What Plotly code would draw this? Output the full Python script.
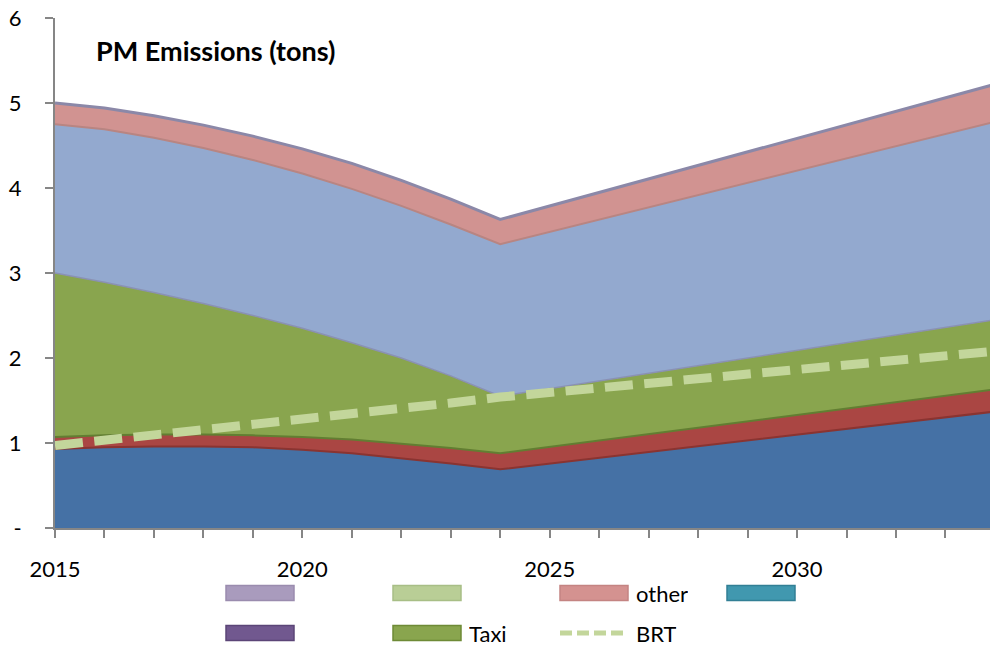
import plotly.graph_objects as go

# Years with data points (the 2024-2034 stretch is a straight run between the two ends)
years = [2015, 2016, 2017, 2018, 2019, 2020, 2021, 2022, 2023, 2024, 2034]

# Stacked PM emissions by layer, tons (bottom to top)
bus = [0.93, 0.95, 0.96, 0.96, 0.95, 0.92, 0.88, 0.82, 0.76, 0.69, 1.37]
minibus = [0.14, 0.14, 0.14, 0.14, 0.14, 0.15, 0.16, 0.17, 0.18, 0.19, 0.26]
taxi = [1.93, 1.80, 1.67, 1.54, 1.41, 1.28, 1.14, 1.01, 0.85, 0.67, 0.82]
private = [1.75, 1.80, 1.82, 1.83, 1.83, 1.82, 1.81, 1.79, 1.78, 1.79, 2.33]
other = [0.25, 0.25, 0.26, 0.27, 0.28, 0.29, 0.30, 0.30, 0.30, 0.29, 0.44]

# BRT line, tons
brt = [0.97, 1.03, 1.09, 1.16, 1.22, 1.28, 1.35, 1.41, 1.47, 1.54, 2.08]

y_ticks = [0, 1, 2, 3, 4, 5, 6]
y_tick_text = ["-", "1", "2", "3", "4", "5", "6"]
x_label_years = [2015, 2020, 2025, 2030]

# Legend entries (label, fill, outline) laid out in two rows of four columns
legend_labels = ["", "", "other", "", "", "Taxi", "BRT"]
legend_fills = ["#A99BBD", "#B9CE96", "#D49290", "#4198AF", "#71588F", "#89A54E", "#C3D69B"]
legend_edges = ["#9A8CAE", "#A8BE86", "#C48482", "#327F95", "#5B4577", "#6E8A36", "#C3D69B"]

FONT = "Lato"
W, H = 990, 646
L, R, T, B = 55, 0, 18, 118
X0, X1 = 2015, 2033.9

fig = go.Figure()

layers = [
    ("", bus, "#4571A5", "#8A3431", 2),
    ("", minibus, "#AA4643", "#627E32", 2),
    ("Taxi", taxi, "#89A54E", "#8A91B3", 1.5),
    ("", private, "#93A9CF", "#B88582", 2),
    ("other", other, "#D19391", "#8B88A8", 3),
]
for name, vals, fill, edge, lw in layers:
    fig.add_trace(go.Scatter(
        x=years, y=vals, name=name, mode="lines",
        stackgroup="pm", fillcolor=fill,
        line=dict(color=edge, width=lw),
        showlegend=False, hoverinfo="skip",
    ))

fig.add_trace(go.Scatter(
    x=years, y=brt, name="BRT", mode="lines",
    line=dict(color="#C3D69B", width=9, dash="28px,11.5px"),
    showlegend=False, hoverinfo="skip",
))

fig.update_layout(
    width=W, height=H,
    margin=dict(l=L, r=R, t=T, b=B),
    paper_bgcolor="white", plot_bgcolor="white",
    font=dict(family=FONT, size=22, color="black"),
    showlegend=False,
    xaxis=dict(
        range=[X0, X1], showgrid=False, zeroline=False,
        showline=True, linecolor="#868686", linewidth=2,
        tickvals=x_label_years, ticktext=[str(y) for y in x_label_years],
        ticks="outside", ticklen=8, tickcolor="#868686", tickwidth=2,
        ticklabelstandoff=13,
        minor=dict(dtick=1, tick0=2015, ticks="outside", ticklen=8,
                   tickcolor="#868686", tickwidth=2, showgrid=False),
        tickfont=dict(family=FONT, size=22, color="black"),
    ),
    yaxis=dict(
        range=[0, 6], showgrid=False, zeroline=False,
        showline=True, linecolor="#868686", linewidth=2,
        tickvals=y_ticks, ticktext=y_tick_text,
        ticks="outside", ticklen=8, tickcolor="#868686", tickwidth=2,
        ticklabelstandoff=19,
        tickfont=dict(family=FONT, size=22, color="black"),
    ),
)


def px_x(px):
    return (px - L) / (W - L - R)


def px_y(py):
    return (H - B - py) / (H - T - B)


fig.add_annotation(
    x=px_x(94), y=px_y(50), xref="paper", yref="paper",
    text="<b>PM Emissions (tons)</b>", showarrow=False,
    xanchor="left", yanchor="middle",
    font=dict(family=FONT, size=27, color="black"),
)

col_left = [226, 393, 560, 727]
row_mid = [593, 633]
sw_w, sw_h = 68, 15
for i, (lab, fc, ec) in enumerate(zip(legend_labels, legend_fills, legend_edges)):
    r, c = divmod(i, 4)
    x0 = col_left[c]
    ym = row_mid[r]
    if lab == "BRT":
        fig.add_shape(type="line", xref="paper", yref="paper",
                      x0=px_x(x0), x1=px_x(x0 + 64), y0=px_y(ym), y1=px_y(ym),
                      line=dict(color=fc, width=5, dash="12px,5px"))
    else:
        fig.add_shape(type="rect", xref="paper", yref="paper",
                      x0=px_x(x0), x1=px_x(x0 + sw_w),
                      y0=px_y(ym + sw_h / 2), y1=px_y(ym - sw_h / 2),
                      fillcolor=fc, line=dict(color=ec, width=1.5))
    if lab:
        fig.add_annotation(
            x=px_x(x0 + sw_w + 7), y=px_y(ym), xref="paper", yref="paper",
            text=lab, showarrow=False, xanchor="left", yanchor="middle",
            height=22, borderpad=0,
            font=dict(family=FONT, size=22, color="black"),
        )

fig.write_html("out.html")
